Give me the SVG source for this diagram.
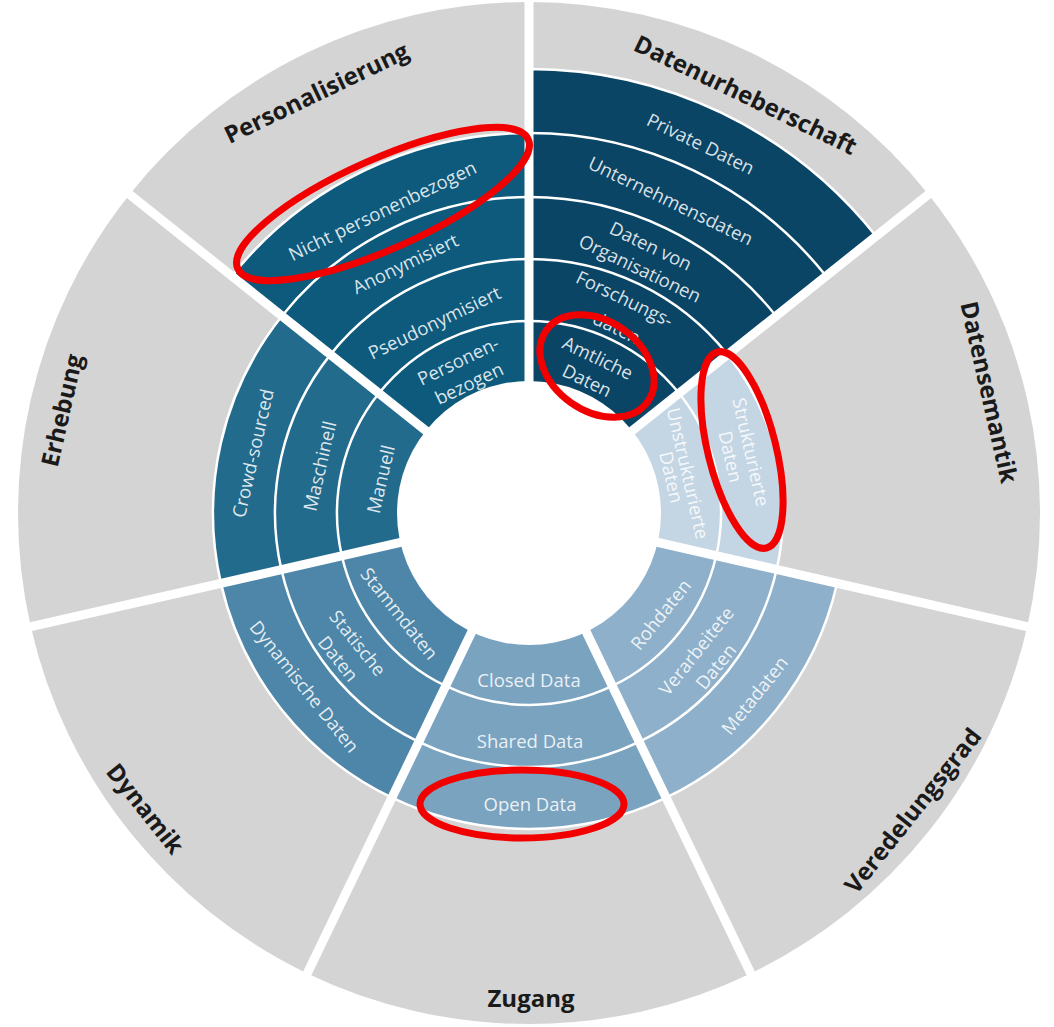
<svg xmlns="http://www.w3.org/2000/svg" width="1054" height="1027" viewBox="0 0 1054 1027">
<style>
.gray{fill:#d4d4d4}
.band{stroke:#ffffff;stroke-width:2.5}
.ring{fill:none;stroke:#ffffff;stroke-width:2.5}
.lbl{font-family:"Open Sans","Liberation Sans",sans-serif;font-size:24px;font-weight:700;fill:#1a1a1a;text-anchor:middle;dominant-baseline:central}
.in{font-family:"Open Sans","Liberation Sans",sans-serif;font-size:18.5px;fill:#ffffff;fill-opacity:0.86;text-anchor:middle;dominant-baseline:central}
.gap{stroke:#ffffff;stroke-width:9}
.mark{fill:none;stroke:#f20000;stroke-width:7}
</style>
<defs>
<path id="w511" d="M0 0 L-221.71 -460.40 A511 511 0 0 1 221.71 -460.40 Z"/>
<path id="w444" d="M0 0 L-192.64 -400.03 A444 444 0 0 1 192.64 -400.03 Z"/>
<path id="w380" d="M0 0 L-164.88 -342.37 A380 380 0 0 1 164.88 -342.37 Z"/>
<path id="w316" d="M0 0 L-137.11 -284.71 A316 316 0 0 1 137.11 -284.71 Z"/>
<path id="w254" d="M0 0 L-110.21 -228.85 A254 254 0 0 1 110.21 -228.85 Z"/>
<path id="w192" d="M0 0 L-83.31 -172.99 A192 192 0 0 1 83.31 -172.99 Z"/>
<path id="a192" d="M-83.31 -172.99 A192 192 0 0 1 83.31 -172.99"/>
<path id="a254" d="M-110.21 -228.85 A254 254 0 0 1 110.21 -228.85"/>
<path id="a316" d="M-137.11 -284.71 A316 316 0 0 1 137.11 -284.71"/>
<path id="a380" d="M-164.88 -342.37 A380 380 0 0 1 164.88 -342.37"/>
</defs>
<rect width="1054" height="1027" fill="#ffffff"/>

<g id="datenurheberschaft">
<g transform="translate(529 513) rotate(25.714)">
<use href="#w511" class="gray"/>
<use href="#w444" class="band" fill="#0a4566"/>
<use href="#a254" class="ring"/>
<use href="#a316" class="ring"/>
<use href="#a380" class="ring"/>
</g>
<text class="lbl" transform="translate(746 94) rotate(25.714)">Datenurheberschaft</text>
<text class="in" transform="translate(701 143) rotate(25.714)">Private Daten</text>
<text class="in" transform="translate(671 200) rotate(25.714)">Unternehmensdaten</text>
<text class="in" transform="translate(646 256) rotate(25.714)"><tspan x="0" dy="-12.5">Daten von</tspan><tspan x="0" dy="25">Organisationen</tspan></text>
<text class="in" transform="translate(625 298) rotate(25.714)">Forschungs-</text>
<text class="in" transform="translate(617 327) rotate(25.714)">daten</text>
<g transform="translate(529 513) rotate(25.714)">
<use href="#w192" fill="#0a4566"/>
<use href="#a192" class="ring"/>
</g>
<text class="in" transform="translate(593 368) rotate(25.714)"><tspan x="0" dy="-12.5">Amtliche</tspan><tspan x="0" dy="25">Daten</tspan></text>
</g>

<g id="datensemantik">
<g transform="translate(529 513) rotate(77.143)">
<use href="#w511" class="gray"/>
<use href="#w254" class="band" fill="#c4d5e3"/>
<use href="#a192" class="ring"/>
</g>
<text class="lbl" transform="translate(990 392) rotate(77.143)">Datensemantik</text>
<text class="in" transform="translate(681 475) rotate(77.143)"><tspan x="0" dy="-8.5">Unstrukturierte</tspan><tspan x="0" dy="17">Daten</tspan></text>
<text class="in" transform="translate(742 454) rotate(77.143)"><tspan x="0" dy="-10.5">Strukturierte</tspan><tspan x="0" dy="21">Daten</tspan></text>
</g>

<g id="veredelungsgrad">
<g transform="translate(529 513) rotate(128.571)">
<use href="#w511" class="gray"/>
<use href="#w316" class="band" fill="#8eb0ca"/>
<use href="#a192" class="ring"/>
<use href="#a254" class="ring"/>
</g>
<text class="lbl" transform="translate(912 810) rotate(-51.429)">Veredelungsgrad</text>
<text class="in" transform="translate(660 614) rotate(-51.429)">Rohdaten</text>
<text class="in" transform="translate(705 658) rotate(-51.429)"><tspan x="0" dy="-12.5">Verarbeitete</tspan><tspan x="0" dy="25">Daten</tspan></text>
<text class="in" transform="translate(754 695) rotate(-51.429)">Metadaten</text>
</g>

<g id="zugang">
<g transform="translate(529 513) rotate(180)">
<use href="#w511" class="gray"/>
<use href="#w316" class="band" fill="#7aa3c0"/>
<use href="#a192" class="ring"/>
<use href="#a254" class="ring"/>
</g>
<text class="lbl" transform="translate(531 997)">Zugang</text>
<text class="in" transform="translate(529 679)">Closed Data</text>
<text class="in" transform="translate(530 740)">Shared Data</text>
<text class="in" transform="translate(530 803)">Open Data</text>
</g>

<g id="dynamik">
<g transform="translate(529 513) rotate(231.429)">
<use href="#w511" class="gray"/>
<use href="#w316" class="band" fill="#4d86a8"/>
<use href="#a192" class="ring"/>
<use href="#a254" class="ring"/>
</g>
<text class="lbl" transform="translate(146 808) rotate(51.429)">Dynamik</text>
<text class="in" transform="translate(400 613) rotate(51.429)">Stammdaten</text>
<text class="in" transform="translate(349 650) rotate(51.429)"><tspan x="0" dy="-12.5">Statische</tspan><tspan x="0" dy="25">Daten</tspan></text>
<text class="in" transform="translate(305 686) rotate(51.429)">Dynamische Daten</text>
</g>

<g id="erhebung">
<g transform="translate(529 513) rotate(282.857)">
<use href="#w511" class="gray"/>
<use href="#w316" class="band" fill="#226b8c"/>
<use href="#a192" class="ring"/>
<use href="#a254" class="ring"/>
</g>
<text class="lbl" transform="translate(61 410) rotate(-77.143)">Erhebung</text>
<text class="in" transform="translate(380 479) rotate(-77.143)">Manuell</text>
<text class="in" transform="translate(319 466) rotate(-77.143)">Maschinell</text>
<text class="in" transform="translate(252 453) rotate(-77.143)">Crowd-sourced</text>
</g>

<g id="personalisierung">
<g transform="translate(529 513) rotate(334.286)">
<use href="#w511" class="gray"/>
<use href="#w380" class="band" fill="#0d5a7d"/>
<use href="#a192" class="ring"/>
<use href="#a254" class="ring"/>
<use href="#a316" class="ring"/>
</g>
<text class="lbl" transform="translate(316 92) rotate(-25.714)">Personalisierung</text>
<text class="in" transform="translate(463 371) rotate(-25.714)"><tspan x="0" dy="-12.5">Personen-</tspan><tspan x="0" dy="25">bezogen</tspan></text>
<text class="in" transform="translate(434 322) rotate(-25.714)">Pseudonymisiert</text>
<text class="in" transform="translate(405 263) rotate(-25.714)">Anonymisiert</text>
<text class="in" transform="translate(382 210) rotate(-25.714)">Nicht personenbezogen</text>
</g>

<g id="separators" transform="translate(529 513)">
<line class="gap" x1="0" y1="0" x2="0" y2="-540"/>
<line class="gap" x1="0" y1="0" x2="0" y2="-540" transform="rotate(51.429)"/>
<line class="gap" x1="0" y1="0" x2="0" y2="-540" transform="rotate(102.857)"/>
<line class="gap" x1="0" y1="0" x2="0" y2="-540" transform="rotate(154.286)"/>
<line class="gap" x1="0" y1="0" x2="0" y2="-540" transform="rotate(205.714)"/>
<line class="gap" x1="0" y1="0" x2="0" y2="-540" transform="rotate(257.143)"/>
<line class="gap" x1="0" y1="0" x2="0" y2="-540" transform="rotate(308.571)"/>
<circle cx="0" cy="0" r="132" fill="#ffffff"/>
</g>

<g id="highlights">
<ellipse class="mark" cx="383" cy="204" rx="159" ry="45" transform="rotate(-24 383 204)"/>
<ellipse class="mark" cx="597" cy="366" rx="62" ry="45" transform="rotate(35 597 366)"/>
<ellipse class="mark" cx="742" cy="450" rx="34" ry="101" transform="rotate(-14 742 450)"/>
<ellipse class="mark" cx="522" cy="804" rx="102" ry="34"/>
</g>
</svg>
